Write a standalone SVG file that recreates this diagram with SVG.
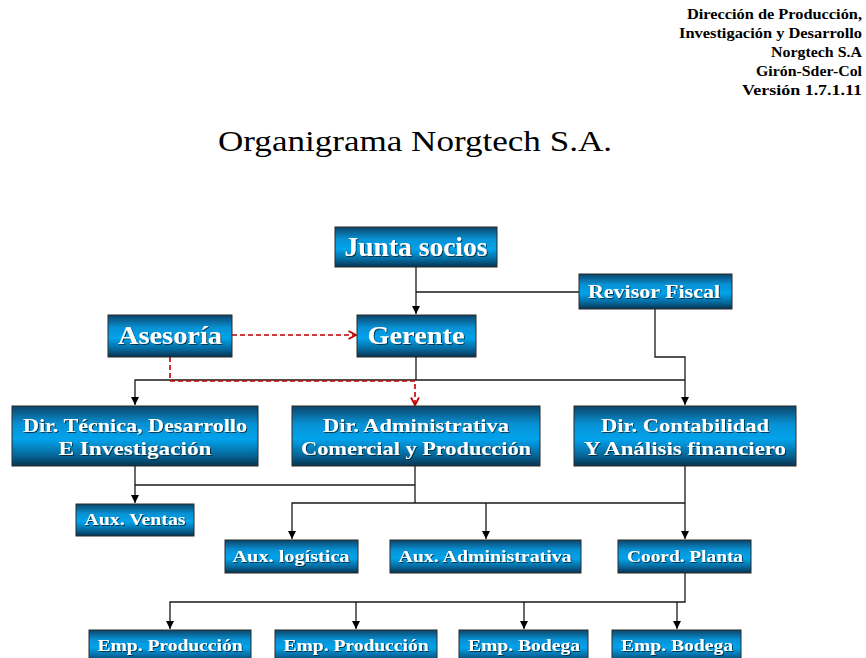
<svg xmlns="http://www.w3.org/2000/svg" width="866" height="658" viewBox="0 0 866 658">
<defs>
<linearGradient id="bg" x1="0" y1="0" x2="0" y2="1">
<stop offset="0" stop-color="#0b4468"/>
<stop offset="0.3" stop-color="#0891d4"/>
<stop offset="0.55" stop-color="#01a3ec"/>
<stop offset="0.82" stop-color="#06679a"/>
<stop offset="1" stop-color="#06324f"/>
</linearGradient>
<filter id="ts" x="-10%" y="-30%" width="120%" height="160%">
<feDropShadow dx="1" dy="1" stdDeviation="0.6" flood-color="#002030" flood-opacity="0.8"/>
</filter>
<marker id="ab" markerUnits="userSpaceOnUse" markerWidth="9" markerHeight="9" refX="8" refY="4.5" orient="auto" viewBox="0 0 9 9">
<path d="M0,0.5 L8,4.5 L0,8.5 z" fill="#000"/>
</marker>
<marker id="ar" markerUnits="userSpaceOnUse" markerWidth="10" markerHeight="10" refX="8.5" refY="5" orient="auto" viewBox="0 0 10 10">
<path d="M1,1 L8.5,5 L1,9" fill="none" stroke="#c00000" stroke-width="1.8"/>
</marker>
</defs>
<style>
.box{fill:url(#bg);stroke:#2a2a2a;stroke-width:1}
.t{fill:#fff;font-family:"Liberation Serif","DejaVu Serif",serif;font-weight:bold;text-anchor:middle;filter:url(#ts)}
.hdr{fill:#000;font-family:"Liberation Serif","DejaVu Serif",serif;font-weight:bold;font-size:14px;text-anchor:end}
.title{fill:#000;font-family:"Liberation Serif","DejaVu Serif",serif;font-size:30px;text-anchor:middle}
.ln{fill:none;stroke:#1a1a1a;stroke-width:1.3}
.rd{fill:none;stroke:#c00000;stroke-width:1.6;stroke-dasharray:5 3}
</style>
<rect width="866" height="658" fill="#fff"/>

<g id="header">
<text class="hdr" x="862" y="19" textLength="175" lengthAdjust="spacingAndGlyphs">Dirección de Producción,</text>
<text class="hdr" x="862" y="38" textLength="183" lengthAdjust="spacingAndGlyphs">Investigación y Desarrollo</text>
<text class="hdr" x="862" y="57" textLength="91" lengthAdjust="spacingAndGlyphs">Norgtech S.A</text>
<text class="hdr" x="862" y="76" textLength="106" lengthAdjust="spacingAndGlyphs">Girón-Sder-Col</text>
<text class="hdr" x="862" y="95" textLength="120" lengthAdjust="spacingAndGlyphs">Versión 1.7.1.11</text>
</g>
<text class="title" x="415" y="151" textLength="394" lengthAdjust="spacingAndGlyphs">Organigrama Norgtech S.A.</text>

<g id="connectors">
<path class="ln" d="M416,267 V314" marker-end="url(#ab)"/>
<path class="ln" d="M579,292 H416"/>
<path class="ln" d="M655,309 V357 H685 V405" marker-end="url(#ab)"/>
<path class="ln" d="M416,357 V380"/>
<path class="ln" d="M685,380 H135 V405" marker-end="url(#ab)"/>
<path class="rd" d="M232,335 H356" marker-end="url(#ar)"/>
<path class="rd" d="M170,357 V381 H415 V405" marker-end="url(#ar)"/>
<path class="ln" d="M135,466 V503" marker-end="url(#ab)"/>
<path class="ln" d="M135,485 H415"/>
<path class="ln" d="M415,466 V503"/>
<path class="ln" d="M685,503 H292 V539" marker-end="url(#ab)"/>
<path class="ln" d="M486,503 V539" marker-end="url(#ab)"/>
<path class="ln" d="M685,466 V539" marker-end="url(#ab)"/>
<path class="ln" d="M685,573 V602 H170 V629" marker-end="url(#ab)"/>
<path class="ln" d="M356,602 V629" marker-end="url(#ab)"/>
<path class="ln" d="M524,602 V629" marker-end="url(#ab)"/>
<path class="ln" d="M677,602 V629" marker-end="url(#ab)"/>
</g>

<g id="junta">
<rect class="box" x="335" y="227" width="162" height="40"/>
<text class="t" x="416" y="256" font-size="27" textLength="143" lengthAdjust="spacingAndGlyphs">Junta socios</text>
</g>
<g id="revisor">
<rect class="box" x="579" y="274" width="153" height="35"/>
<text class="t" x="654" y="298" font-size="18" textLength="132" lengthAdjust="spacingAndGlyphs">Revisor Fiscal</text>
</g>
<g id="asesoria">
<rect class="box" x="108" y="315" width="124" height="42"/>
<text class="t" x="170" y="344" font-size="25" textLength="104" lengthAdjust="spacingAndGlyphs">Asesoría</text>
</g>
<g id="gerente">
<rect class="box" x="357" y="315" width="119" height="42"/>
<text class="t" x="416" y="344" font-size="25" textLength="97" lengthAdjust="spacingAndGlyphs">Gerente</text>
</g>
<g id="dir-tecnica">
<rect class="box" x="12" y="406" width="246" height="60"/>
<text class="t" x="135" y="432" font-size="19" textLength="224" lengthAdjust="spacingAndGlyphs">Dir. Técnica, Desarrollo</text>
<text class="t" x="135" y="455" font-size="19" textLength="153" lengthAdjust="spacingAndGlyphs">E  Investigación</text>
</g>
<g id="dir-administrativa">
<rect class="box" x="292" y="406" width="248" height="60"/>
<text class="t" x="416" y="432" font-size="19" textLength="186" lengthAdjust="spacingAndGlyphs">Dir. Administrativa</text>
<text class="t" x="416" y="455" font-size="19" textLength="230" lengthAdjust="spacingAndGlyphs">Comercial y Producción</text>
</g>
<g id="dir-contabilidad">
<rect class="box" x="574" y="406" width="222" height="60"/>
<text class="t" x="685" y="432" font-size="19" textLength="168" lengthAdjust="spacingAndGlyphs">Dir. Contabilidad</text>
<text class="t" x="685" y="455" font-size="19" textLength="202" lengthAdjust="spacingAndGlyphs">Y Análisis financiero</text>
</g>
<g id="aux-ventas">
<rect class="box" x="76" y="504" width="118" height="32"/>
<text class="t" x="135" y="525" font-size="16" textLength="101" lengthAdjust="spacingAndGlyphs">Aux. Ventas</text>
</g>
<g id="aux-logistica">
<rect class="box" x="225" y="540" width="133" height="33"/>
<text class="t" x="291" y="562" font-size="16" textLength="117" lengthAdjust="spacingAndGlyphs">Aux. logística</text>
</g>
<g id="aux-administrativa">
<rect class="box" x="390" y="540" width="191" height="33"/>
<text class="t" x="485" y="562" font-size="16" textLength="173" lengthAdjust="spacingAndGlyphs">Aux. Administrativa</text>
</g>
<g id="coord-planta">
<rect class="box" x="618" y="540" width="133" height="33"/>
<text class="t" x="685" y="562" font-size="16" textLength="116" lengthAdjust="spacingAndGlyphs">Coord. Planta</text>
</g>
<g id="emp-produccion-1">
<rect class="box" x="89" y="630" width="162" height="32"/>
<text class="t" x="170" y="651" font-size="16" textLength="145" lengthAdjust="spacingAndGlyphs">Emp. Producción</text>
</g>
<g id="emp-produccion-2">
<rect class="box" x="275" y="630" width="162" height="32"/>
<text class="t" x="356" y="651" font-size="16" textLength="145" lengthAdjust="spacingAndGlyphs">Emp. Producción</text>
</g>
<g id="emp-bodega-1">
<rect class="box" x="459" y="630" width="129" height="32"/>
<text class="t" x="524" y="651" font-size="16" textLength="112" lengthAdjust="spacingAndGlyphs">Emp. Bodega</text>
</g>
<g id="emp-bodega-2">
<rect class="box" x="612" y="630" width="129" height="32"/>
<text class="t" x="677" y="651" font-size="16" textLength="112" lengthAdjust="spacingAndGlyphs">Emp. Bodega</text>
</g>
</svg>
